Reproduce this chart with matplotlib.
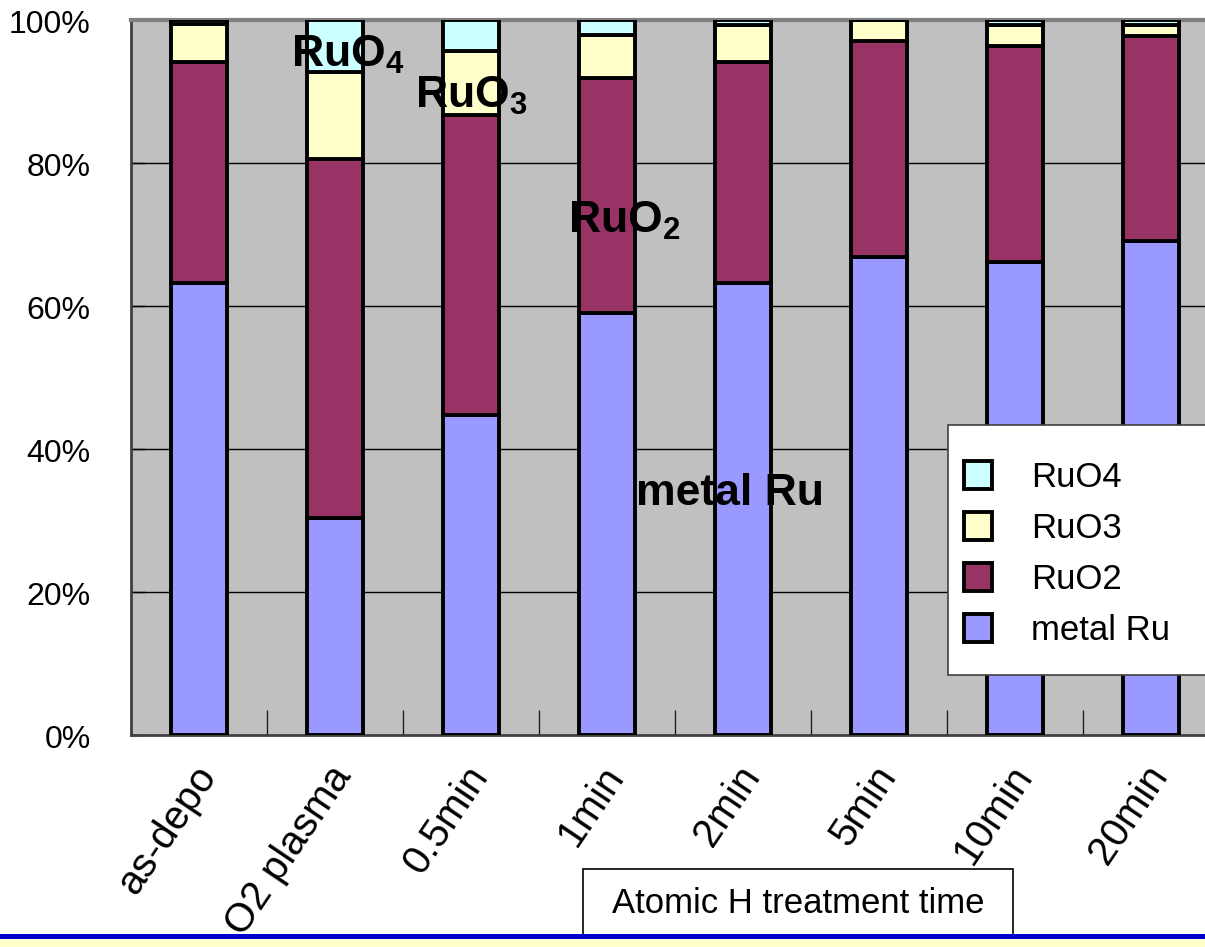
import matplotlib
matplotlib.use("Agg")
import matplotlib.pyplot as plt
from matplotlib.patches import Rectangle
from matplotlib.transforms import ScaledTranslation
from matplotlib.ticker import FixedLocator, PercentFormatter

plt.rcParams['font.family'] = ['Liberation Sans', 'DejaVu Sans']
plt.rcParams['mathtext.fontset'] = 'custom'
plt.rcParams['mathtext.bf'] = 'Liberation Sans:bold'
plt.rcParams['mathtext.rm'] = 'Liberation Sans'

# Composition (%) of the Ru film after each treatment step
categories = ["as-depo", "O2 plasma", "0.5min", "1min", "2min", "5min", "10min", "20min"]
metal_ru = [63.2, 30.3, 44.8, 59.0, 63.2, 66.9, 66.2, 69.1]
ruo2 = [30.9, 50.3, 41.9, 32.9, 30.9, 30.2, 30.2, 28.7]
ruo3 = [5.3, 12.1, 9.0, 6.0, 5.2, 2.9, 2.9, 1.5]
ruo4 = [0.6, 7.3, 4.3, 2.1, 0.7, 0.0, 0.7, 0.7]

series = [("metal Ru", metal_ru, "#9999FF"),
          ("RuO2", ruo2, "#993366"),
          ("RuO3", ruo3, "#FFFFCC"),
          ("RuO4", ruo4, "#CCFFFF")]

W, H = 1205, 947
fig = plt.figure(figsize=(W / 100, H / 100), dpi=100)
ax = fig.add_axes([131 / W, 212 / H, 1088 / W, 715 / H])
ax.set_facecolor("#C0C0C0")

x = list(range(len(categories)))
bottom = [0.0] * len(categories)
handles = {}
for name, vals, color in series:
    bars = ax.bar(x, vals, width=0.41, bottom=bottom, color=color,
                  edgecolor="black", linewidth=2.8, zorder=3)
    handles[name] = bars
    bottom = [b + v for b, v in zip(bottom, vals)]

ax.set_xlim(-0.5, 7.5)
ax.set_ylim(0, 100)

# horizontal gridlines
for gy in [20, 40, 60, 80]:
    ax.axhline(gy, color="black", linewidth=1.0, zorder=1)

ax.yaxis.set_major_locator(FixedLocator([0, 20, 40, 60, 80, 100]))
ax.yaxis.set_major_formatter(PercentFormatter(decimals=0))
ax.tick_params(axis="y", direction="in", length=10, width=1, labelsize=23, pad=29)
down = ScaledTranslation(0, -5 / 100, fig.dpi_scale_trans)
for lbl in ax.get_yticklabels():
    lbl.set_verticalalignment("center")
    lbl.set_transform(lbl.get_transform() + down)

ax.set_xticks(x)
ax.set_xticklabels(categories, rotation=56, ha="right", rotation_mode="anchor",
                   fontsize=29)
ax.tick_params(axis="x", length=0, pad=17)
left = ScaledTranslation(-7 / 100, 0, fig.dpi_scale_trans)
for lbl in ax.get_xticklabels():
    lbl.set_transform(lbl.get_transform() + left)
ax.xaxis.set_minor_locator(FixedLocator([i + 0.5 for i in range(7)]))
ax.tick_params(axis="x", which="minor", direction="in", length=18, width=1,
               color="#202020")

for s in ["left", "bottom"]:
    ax.spines[s].set_color("#404040")
    ax.spines[s].set_linewidth(2)
ax.spines["top"].set_color("#808080")
ax.spines["top"].set_linewidth(3)
ax.spines["right"].set_visible(False)

# species labels inside the plot
ax.text(0.676, 93.4, r"$\mathbf{RuO_4}$", fontsize=32, ha="left", va="baseline", zorder=5)
ax.text(1.588, 87.7, r"$\mathbf{RuO_3}$", fontsize=32, ha="left", va="baseline", zorder=5)
ax.text(2.71, 70.3, r"$\mathbf{RuO_2}$", fontsize=32, ha="left", va="baseline", zorder=5)
ax.text(3.21, 32.2, "metal Ru", fontsize=32, fontweight="bold", ha="left",
        va="baseline", zorder=5)

# legend: white box with the four species
ax.add_patch(Rectangle((948 / W, 1 - 675 / H), 300 / W, 250 / H,
                       transform=fig.transFigure, facecolor="white",
                       edgecolor="#404040", linewidth=1.2, zorder=5, clip_on=False))
leg = ax.legend([handles["RuO4"], handles["RuO3"], handles["RuO2"], handles["metal Ru"]],
                ["RuO4", "RuO3", "RuO2", "metal Ru"],
                loc="upper left", bbox_to_anchor=((964 - 131) / 1088, (735 - 461) / 715),
                fontsize=25, frameon=False, handlelength=0.81, handleheight=0.86,
                handletextpad=1.12, labelspacing=0.52, borderpad=0,
                borderaxespad=0)
leg.set_zorder(6)

# axis caption box
fig.add_artist(Rectangle((583 / W, 1 - 935 / H), 430 / W, 66 / H,
                         transform=fig.transFigure, facecolor="white",
                         edgecolor="black", linewidth=1.2, zorder=2))
fig.text(798 / W, 1 - 903 / H, "Atomic H treatment time", fontsize=25,
         ha="center", va="center", zorder=3)

# bottom band
fig.add_artist(Rectangle((0, 0), 1, 12 / H, transform=fig.transFigure,
                         facecolor="#FFFFCC", edgecolor="none", zorder=0))
fig.add_artist(Rectangle((0, 8 / H), 1, 5 / H, transform=fig.transFigure,
                         facecolor="#0000CC", edgecolor="none", zorder=4))

fig.savefig("out.png", dpi=100)
